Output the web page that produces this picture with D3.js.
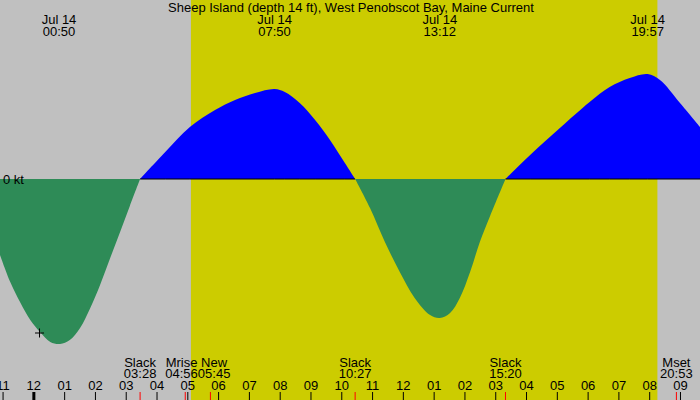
<!DOCTYPE html>
<html>
<head>
<meta charset="utf-8">
<script src="https://cdn.jsdelivr.net/npm/d3@7"></script>
<style>
body { margin: 0; }
svg { display: block; font-family: "Liberation Sans", Arial, sans-serif; }
</style>
</head>
<body>
<div id="chart"></div>
<script>
// Current readings: minutes after midnight Jul 14, knots (+ flood, - ebb)
let minutes = [-65, -45, -26, -6, 13, 33, 52, 71, 91, 110, 130, 149, 169, 188, 208,
    257, 305, 354, 393, 432, 470, 490, 519, 549, 578, 607, 627,
    656, 685, 714, 743, 773, 792, 812, 831, 851, 870, 890, 920,
    968, 1026, 1084, 1123, 1162, 1197, 1221, 1260, 1299];
let knots = [-0.76, -1.03, -1.23, -1.41, -1.53, -1.63, -1.65, -1.61, -1.49, -1.30, -1.06, -0.80, -0.53, -0.27, 0,
    0.27, 0.52, 0.69, 0.79, 0.86, 0.90, 0.87, 0.76, 0.59, 0.39, 0.16, 0,
    -0.29, -0.63, -0.93, -1.19, -1.36, -1.39, -1.34, -1.19, -0.93, -0.63, -0.37, 0,
    0.24, 0.51, 0.77, 0.92, 1.01, 1.05, 0.99, 0.76, 0.52];

let title = "Sheep Island (depth 14 ft), West Penobscot Bay, Maine Current";
let dayLabel = "Jul 14";
let maxTimes = ["00:50", "07:50", "13:12", "19:57"];
let eventNames = ["Slack", "Mrise", "New", "Slack", "Slack", "Mset"];
let eventTimes = ["03:28", "04:56", "05:45", "10:27", "15:20", "20:53"];
let sunrise = "05:07";
let sunset = "20:16";
let nowTime = "00:12";
let nowKnots = -1.54;

let width = 700;
let height = 400;

let parseTime = (s) => {
    let p = s.split(":");
    return new Date(2024, 6, 14, +p[0], +p[1]);
};
let fromMinutes = (m) => new Date(2024, 6, 14, 0, m);

let data = minutes.map((m, i) => ({ t: fromMinutes(m), v: knots[i] }));

// split into ebb / flood arcs at each slack
let segments = [];
let cur = [];
data.forEach(d => {
    cur.push(d);
    if (d.v === 0 && cur.length > 1) {
        segments.push(cur);
        cur = [d];
    }
});
if (cur.length > 1) segments.push(cur);

let xScale = d3.scaleTime()
    .domain([fromMinutes(-65), fromMinutes(1299)])
    .range([0, width]);

let yScale = d3.scaleLinear()
    .domain([-2.21, 1.79])
    .range([height, 0]);

let svg = d3.select("#chart")
    .append("svg")
    .attr("width", width)
    .attr("height", height);

// night background + daylight band
svg.append("rect")
    .attr("width", width)
    .attr("height", height)
    .attr("fill", "#c0c0c0");

svg.append("rect")
    .attr("x", xScale(parseTime(sunrise)))
    .attr("width", xScale(parseTime(sunset)) - xScale(parseTime(sunrise)))
    .attr("y", 0)
    .attr("height", height)
    .attr("fill", "#cccc00");

let zeroY = yScale(0);

let area = d3.area()
    .curve(d3.curveCatmullRom.alpha(0.5))
    .x(d => xScale(d.t))
    .y0(zeroY)
    .y1(d => yScale(d.v));

svg.selectAll(".arc")
    .data(segments)
    .enter()
    .append("path")
    .attr("class", "arc")
    .attr("fill", d => d3.mean(d, p => p.v) > 0 ? "#0000ff" : "#2e8b57")
    .attr("d", area);

// zero line only under flood
let zeroLine = d3.line()
    .defined(d => d.v >= 0)
    .x(d => xScale(d.t))
    .y(zeroY);

svg.append("path")
    .datum(data)
    .attr("fill", "none")
    .attr("stroke", "black")
    .attr("stroke-width", 1)
    .attr("d", zeroLine);

svg.append("text")
    .attr("x", 3)
    .attr("y", zeroY)
    .attr("dy", "0.35em")
    .style("font-size", "13px")
    .text("0 kt");

// current time marker
let nx = xScale(parseTime(nowTime));
let ny = yScale(nowKnots);
svg.append("path")
    .attr("d", d3.line()([[nx - 4.5, ny], [nx + 4.5, ny]]) + d3.line()([[nx, ny - 4.5], [nx, ny + 4.5]]))
    .attr("stroke", "black")
    .attr("stroke-width", 1);

// title
svg.append("text")
    .attr("x", width / 2 + 1)
    .attr("y", 11.5)
    .attr("text-anchor", "middle")
    .style("font-size", "13px")
    .text(title);

// max current labels
let maxG = svg.selectAll(".max")
    .data(maxTimes)
    .enter()
    .append("g")
    .attr("class", "max")
    .attr("text-anchor", "middle")
    .style("font-size", "13px");

maxG.append("text")
    .attr("x", d => xScale(parseTime(d)))
    .attr("y", 24)
    .text(dayLabel);
maxG.append("text")
    .attr("x", d => xScale(parseTime(d)))
    .attr("y", 36)
    .text(d => d);

// hour axis along the bottom
let xAxis = d3.axisTop(xScale)
    .ticks(d3.timeHour.every(1))
    .tickFormat(d3.timeFormat("%I"))
    .tickSize(8)
    .tickPadding(2);

let axisG = svg.append("g")
    .attr("transform", "translate(0," + height + ")")
    .call(xAxis);
axisG.select(".domain").remove();
axisG.selectAll("text")
    .style("font-family", "Liberation Sans, Arial, sans-serif")
    .style("font-size", "13px")
    .attr("fill", "black");
axisG.selectAll(".tick")
    .filter(d => d.getHours() === 0)
    .select("line")
    .attr("stroke-width", 3);

// event ticks and labels
let events = eventNames.map((n, i) => ({ name: n, time: eventTimes[i], x: xScale(parseTime(eventTimes[i])) }));

svg.selectAll(".evtick")
    .data(events)
    .enter()
    .append("line")
    .attr("class", "evtick")
    .attr("x1", d => d.x)
    .attr("x2", d => d.x)
    .attr("y1", height - 8)
    .attr("y2", height)
    .attr("stroke", "red");

let evG = svg.selectAll(".ev")
    .data(events)
    .enter()
    .append("g")
    .attr("class", "ev")
    .attr("text-anchor", "middle")
    .style("font-size", "13px");

evG.append("text").attr("class", "n").attr("y", 366.5).text(d => d.name);
evG.append("text").attr("class", "t").attr("y", 377.5).text(d => d.time);

// measure and push overlapping labels apart
evG.each(function(d) {
    let g = d3.select(this);
    d.w = Math.max(g.select(".n").node().getComputedTextLength(), g.select(".t").node().getComputedTextLength());
    d.cx = d.x;
});
for (let i = 1; i < events.length; i++) {
    let a = events[i - 1], b = events[i];
    let overlap = (a.cx + a.w / 2) - (b.cx - b.w / 2);
    if (overlap > 0) {
        a.cx -= overlap / 2;
        b.cx += overlap / 2;
    }
}
evG.selectAll("text").attr("x", function() { return d3.select(this.parentNode).datum().cx; });
</script>
</body>
</html>
